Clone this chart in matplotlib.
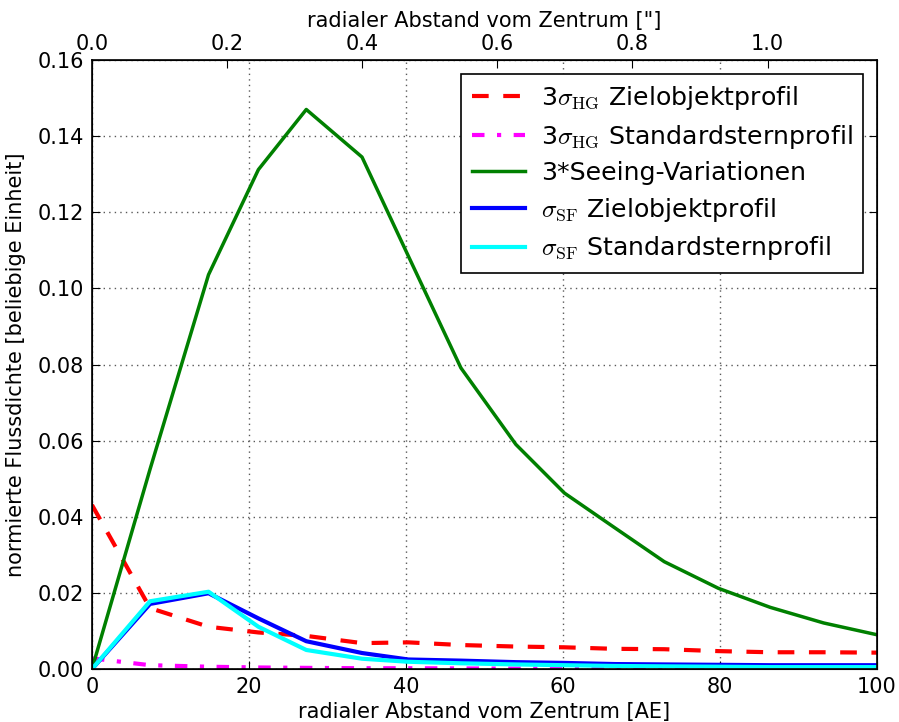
import matplotlib
matplotlib.use("Agg")
import matplotlib.pyplot as plt

plt.rcParams['font.family'] = ['DejaVu Sans']
plt.rcParams['mathtext.fontset'] = 'cm'
plt.rcParams['mathtext.default'] = 'it'

# radial distance [AE]
r_ae = [0.0, 7.4, 14.85, 21.2, 27.3, 34.4, 40.3, 47.0, 54.0, 60.2, 66.6, 72.9, 79.8, 86.4, 93.2, 100.0]

hg_target = [0.0431, 0.0160, 0.0111, 0.0096, 0.0087, 0.0068, 0.0070, 0.0063, 0.0059, 0.0057,
             0.0053, 0.0052, 0.0047, 0.0044, 0.0044, 0.0043]
hg_star = [0.0028, 0.0010, 0.0006, 0.0004, 0.0003, 0.0002, 0.0002, 0.00015, 0.0001, 0.0001,
           0.0001, 0.0001, 0.0001, 0.0001, 0.0001, 0.0001]
seeing = [0.0, 0.0525, 0.1036, 0.1312, 0.1470, 0.1345, 0.1085, 0.0791, 0.0590, 0.0462,
          0.0371, 0.0282, 0.0212, 0.0162, 0.0121, 0.0090]
sf_target = [0.0, 0.0171, 0.0199, 0.0133, 0.0073, 0.0042, 0.0025, 0.0022, 0.0018, 0.0016,
             0.0013, 0.0012, 0.0011, 0.0010, 0.0010, 0.0010]
sf_star = [0.0, 0.0178, 0.0203, 0.0111, 0.0050, 0.0027, 0.0019, 0.0015, 0.0012, 0.0010,
           0.0008, 0.0007, 0.0006, 0.0005, 0.0005, 0.0005]

labels = ['3$\\sigma_{\\rm HG}$ Zielobjektprofil',
          '3$\\sigma_{\\rm HG}$ Standardsternprofil',
          '3*Seeing-Variationen',
          '$\\sigma_{\\rm SF}$ Zielobjektprofil',
          '$\\sigma_{\\rm SF}$ Standardsternprofil']

x_ticks = [0, 20, 40, 60, 80, 100]
y_ticks = [0.00, 0.02, 0.04, 0.06, 0.08, 0.10, 0.12, 0.14, 0.16]
top_ticks = [0.0, 0.2, 0.4, 0.6, 0.8, 1.0]
top_max = 1.162

fs = 15
fig = plt.figure(figsize=(8.99, 7.22), dpi=100)
ax = fig.add_axes([0.1023, 0.0734, 0.8732, 0.8435])

ax.plot(r_ae, hg_target, color='#ff0000', ls='--', lw=3, dashes=(4, 3.5), label=labels[0])
ax.plot(r_ae, hg_star, color='#ff00ff', ls='-.', lw=3, dashes=(3, 3, 1, 3), label=labels[1])
ax.plot(r_ae, seeing, color='#008000', ls='-', lw=2.5, label=labels[2])
ax.plot(r_ae, sf_target, color='#0000ff', ls='-', lw=3, label=labels[3])
ax.plot(r_ae, sf_star, color='#00ffff', ls='-', lw=3, label=labels[4])

ax.set_xlim(0, 100)
ax.set_ylim(0, 0.16)
ax.set_xticks(x_ticks)
ax.set_yticks(y_ticks)
ax.set_yticklabels(['%.2f' % v for v in y_ticks])
ax.tick_params(direction='in', length=6, labelsize=fs, right=True, top=False, pad=6)
ax.grid(True, ls=(0, (1, 3)), color='0.35', lw=1.0)
ax.set_xlabel('radialer Abstand vom Zentrum [AE]', fontsize=fs, labelpad=3)
ax.set_ylabel('normierte Flussdichte [beliebige Einheit]', fontsize=fs, labelpad=8)
for s in ax.spines.values():
    s.set_linewidth(1.2)

leg = ax.legend(loc='upper right', fontsize=18.2, fancybox=False, framealpha=1,
                edgecolor='k', handlelength=2.1, labelspacing=0.42,
                borderaxespad=0.55, handletextpad=0.65, borderpad=0.4)
leg.get_frame().set_linewidth(1.2)

ax2 = ax.twiny()
ax2.set_xlim(0, top_max)
ax2.set_xticks(top_ticks)
ax2.set_xticklabels(['%.1f' % v for v in top_ticks])
ax2.tick_params(direction='in', length=6, labelsize=fs, pad=4)
ax2.set_xlabel('radialer Abstand vom Zentrum ["]', fontsize=fs, labelpad=5)

fig.savefig('out.png', dpi=100, facecolor='white')
